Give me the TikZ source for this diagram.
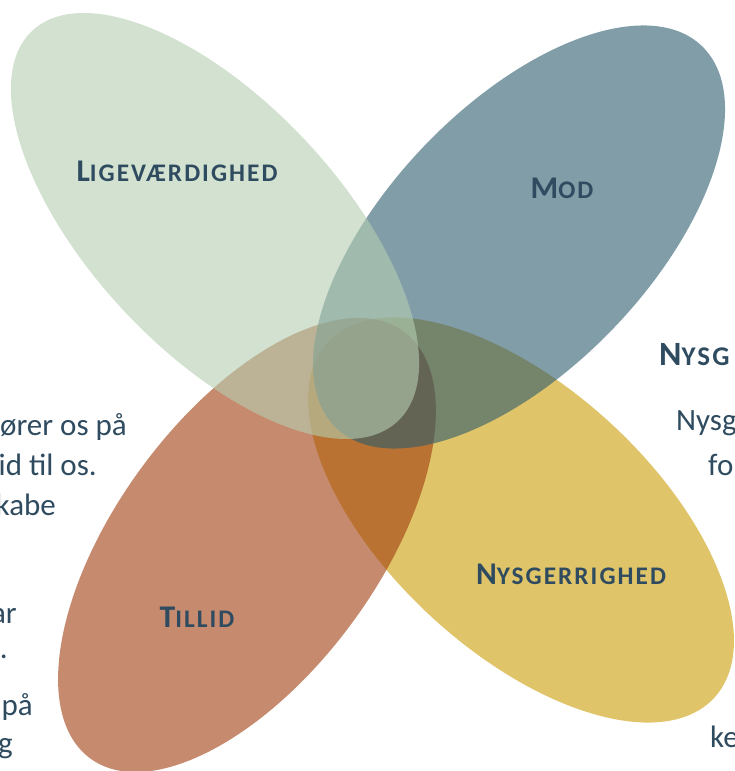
\documentclass[tikz,border=0pt]{standalone}
\usepackage{fontspec}
\setmainfont{Carlito}
\definecolor{cgreen}{RGB}{182,207,177}
\definecolor{cblue}{RGB}{45,92,110}
\definecolor{corange}{RGB}{160,60,13}
\definecolor{cyellow}{RGB}{203,157,7}
\definecolor{ink}{RGB}{47,75,96}
\newcommand\fsc[2]{{\fontsize{31.6}{31.6}\selectfont\addfontfeatures{LetterSpace=6}#1}{\fontsize{25.3}{25.3}\selectfont\addfontfeatures{LetterSpace=8}#2}}
\begin{document}
\begin{tikzpicture}[x=1pt,y=-1pt,
  blob/.style={opacity=0.6},
  lbl/.style={text=ink, font=\bfseries, inner sep=0pt, anchor=base},
  bodyr/.style={text=ink, font=\fontsize{31}{31}\selectfont, inner sep=0pt, anchor=base east},
  bodyl/.style={text=ink, font=\fontsize{31}{31}\selectfont, inner sep=0pt, anchor=base west}]
\useasboundingbox (0,0) rectangle (734,771);
\clip (0,0) rectangle (734,771);
\coordinate (cy) at (521,520);
\coordinate (co) at (247,545);
\coordinate (cb) at (519,237);
\coordinate (cg) at (215,226);
\fill[cyellow, blob, rotate around={-42.6:(cy)}] (cy) ellipse [x radius=262.6pt, y radius=131.9pt];
\fill[corange, blob, rotate around={53.7:(co)}] (co) ellipse [x radius=264.8pt, y radius=130.8pt];
\fill[cblue, blob, rotate around={46.25:(cb)}] (cb) ellipse [x radius=264.4pt, y radius=131.4pt];
\fill[cgreen, blob, rotate around={-46.9:(cg)}] (cg) ellipse [x radius=267.4pt, y radius=124.5pt];
\node[lbl] (tlige) at (177,181) {\fsc{L}{IGEVÆRDIGHED}};
\node[lbl] (tmod) at (562,198) {\fsc{M}{OD}};
\node[lbl] (ttillid) at (197,627) {\fsc{T}{ILLID}};
\node[lbl] (tnys) at (571,584) {\fsc{N}{YSGERRIGHED}};
\node[text=ink, inner sep=0pt, anchor=base west, font=\bfseries] (head) at (659,365)
  {{\fontsize{34}{34}\selectfont\addfontfeatures{LetterSpace=6}N}{\fontsize{27}{27}\selectfont\addfontfeatures{LetterSpace=8}YSG}};
\node[bodyl] (r1) at (676,430) {Nysg};
\node[bodyl] (r2) at (708,475) {fo};
\node[bodyl] (r3) at (710,747) {ke};
\node[bodyr] (l1) at (127,435) {ører os på};
\node[bodyr] (l2) at (97,475) {id til os.};
\node[bodyr] (l3) at (56,515) {kabe};
\node[bodyr] (l4) at (17,623) {ar};
\node[bodyr] (l5) at (8,658) {.};
\node[bodyr] (l6) at (33,715) {på};
\node[bodyr] (l7) at (13,753) {g};
\end{tikzpicture}
\end{document}
